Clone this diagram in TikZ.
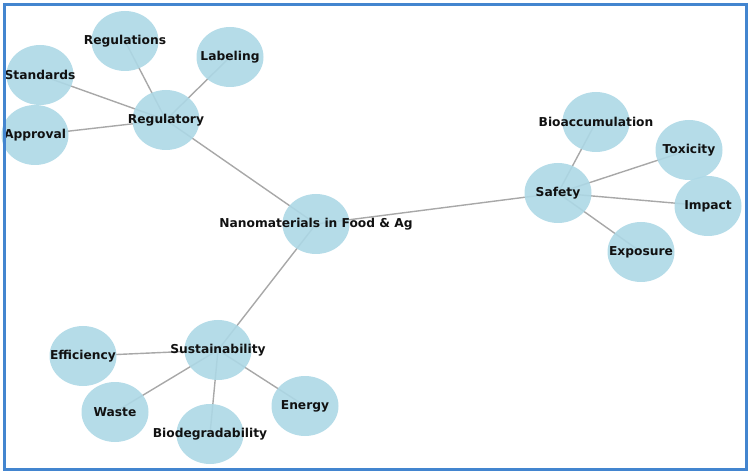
\documentclass[tikz,border=0pt]{standalone}
\usepackage{fontspec}
\setmainfont{DejaVu Sans}
\usepackage{xcolor}
\definecolor{cNode}{HTML}{ADD8E6}
\definecolor{cEdge}{HTML}{A8A8A8}
\definecolor{cFrame}{HTML}{4385CF}
\definecolor{cText}{HTML}{111111}
\usetikzlibrary{shapes.geometric,backgrounds}
\tikzset{
  node-topic/.style={ellipse,fill=cNode,fill opacity=0.9,
    minimum width=67bp,minimum height=60bp,inner sep=0pt},
  node-label/.style={font=\bfseries\fontsize{12.3}{14}\selectfont,
    text=cText,text opacity=1},
  edge-line/.style={draw=cEdge,line width=1.4bp},
  frame-line/.style={draw=cFrame,line width=3bp},
}
\begin{document}
\begin{tikzpicture}[x=1bp,y=-1bp]
  \useasboundingbox (0,0) rectangle (750,473);
  \node[node-topic,label={[node-label]center:Nanomaterials in Food \& Ag}] (Nano) at (316,224) {};
  \foreach \name/\x/\y in {Regulatory/166/120, Regulations/125/41, Labeling/230/57,
      Standards/40/75, Approval/35/135,
      Safety/558/193, Bioaccumulation/596/122, Toxicity/689/150,
      Impact/708/206, Exposure/641/252,
      Sustainability/218/350, Efficiency/83/356, Waste/115/412,
      Biodegradability/210/434, Energy/305/406} {
    \node[node-topic,label={[node-label]center:\name}] (\name) at (\x,\y) {};
  }
  \begin{scope}[on background layer]
    \foreach \a/\b in {Nano/Regulatory, Nano/Safety, Nano/Sustainability,
        Regulatory/Regulations, Regulatory/Labeling, Regulatory/Standards, Regulatory/Approval,
        Safety/Bioaccumulation, Safety/Toxicity, Safety/Impact, Safety/Exposure,
        Sustainability/Efficiency, Sustainability/Waste,
        Sustainability/Biodegradability, Sustainability/Energy}
      \draw[edge-line] (\a.center) -- (\b.center);
  \end{scope}
  \draw[frame-line] (4.5,4.5) rectangle (746,469.5);
\end{tikzpicture}
\end{document}
